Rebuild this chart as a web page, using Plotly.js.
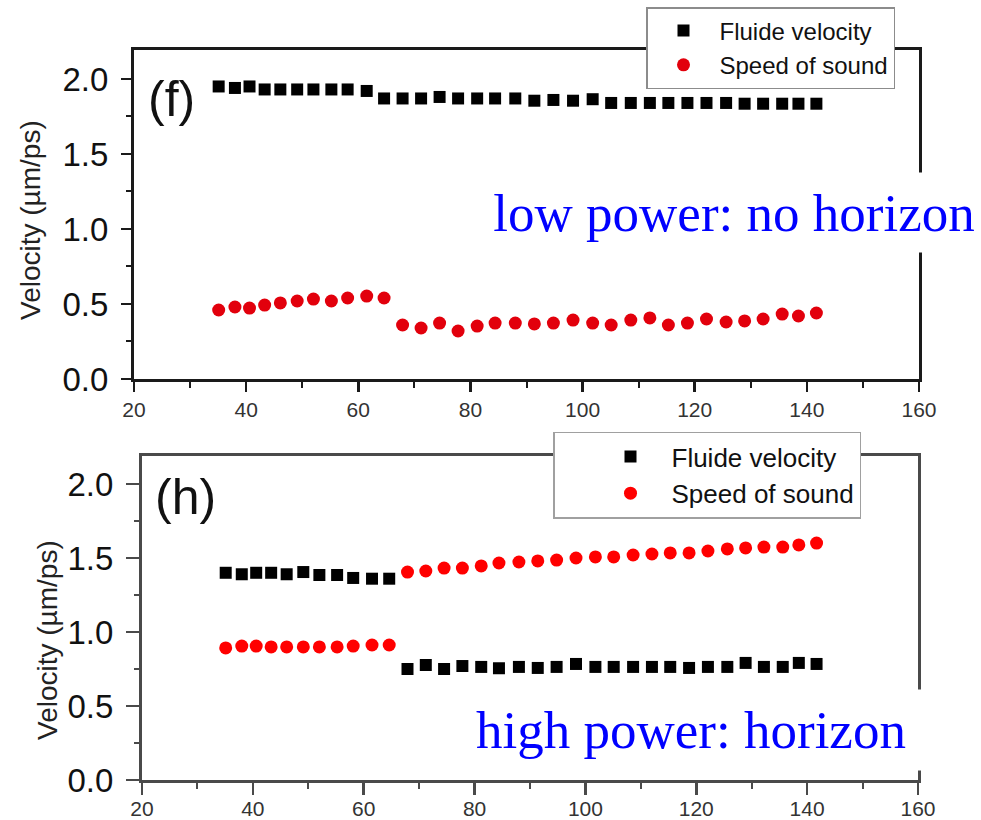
<!DOCTYPE html>
<html>
<head>
<meta charset="utf-8">
<script src="https://cdn.plot.ly/plotly-3.0.1.min.js"></script>
<style>
  html, body { margin: 0; padding: 0; background: #fff; }
  #chart { width: 981px; height: 820px; }
</style>
</head>
<body>
<div id="chart"></div>
<script>
// Sampling positions along the channel (shared by all four series)
const positions = [35.1, 38.0, 40.6, 43.3, 46.1, 49.1, 52.0, 55.2, 58.1, 61.5, 64.6,
  67.9, 71.2, 74.5, 77.8, 81.2, 84.4, 88.0, 91.4, 94.8, 98.3, 101.8, 105.1, 108.6,
  112.0, 115.3, 118.7, 122.1, 125.6, 128.9, 132.2, 135.6, 138.5, 141.7];

// (f) low power
const lowFluid = [1.95, 1.94, 1.95, 1.93, 1.93, 1.93, 1.93, 1.93, 1.93, 1.92,
  1.87, 1.87, 1.87, 1.88, 1.87, 1.87, 1.87, 1.87, 1.855, 1.86, 1.855, 1.865,
  1.84, 1.84, 1.84, 1.84, 1.84, 1.84, 1.84, 1.835, 1.835, 1.835, 1.835, 1.835];
const lowSound = [0.46, 0.48, 0.473, 0.493, 0.507, 0.52, 0.533, 0.52, 0.54, 0.553, 0.54,
  0.36, 0.34, 0.373, 0.32, 0.353, 0.373, 0.373, 0.367, 0.373, 0.393, 0.373, 0.36,
  0.393, 0.407, 0.36, 0.373, 0.40, 0.38, 0.387, 0.40, 0.433, 0.42, 0.44];

// (h) high power
const highFluid = [1.40, 1.39, 1.40, 1.40, 1.39, 1.405, 1.385, 1.385, 1.365, 1.36, 1.36,
  0.75, 0.777, 0.75, 0.77, 0.764, 0.755, 0.764, 0.757, 0.764, 0.784, 0.764, 0.764,
  0.764, 0.764, 0.764, 0.757, 0.764, 0.764, 0.791, 0.764, 0.764, 0.791, 0.784];
const highSound = [0.892, 0.905, 0.905, 0.899, 0.899, 0.899, 0.899, 0.899, 0.905, 0.912, 0.912,
  1.405, 1.412, 1.432, 1.432, 1.446, 1.466, 1.473, 1.48, 1.486, 1.50, 1.507, 1.507,
  1.52, 1.527, 1.534, 1.534, 1.547, 1.561, 1.568, 1.574, 1.574, 1.588, 1.601];

const seriesNames = ['Fluide velocity', 'Speed of sound'];
const xTicks = [20, 40, 60, 80, 100, 120, 140, 160];
const yTicks = [0, 0.5, 1.0, 1.5, 2.0];
const yTitle = 'Velocity (µm/ps)';
const panelLabels = ['(f)', '(h)'];
const panelNotes = ['low power: no horizon', 'high power: horizon'];

const W = 981, H = 820;
const px = v => v / W;
const py = v => 1 - v / H;

const sans = 'Liberation Sans, Arial, sans-serif';
const serif = 'Liberation Serif, Times New Roman, serif';

function xAxis(domain, anchor, color, ticklen, standoff) {
  return {
    domain: domain, anchor: anchor, range: [19.999, 160.001], tickvals: xTicks,
    showgrid: false, zeroline: false,
    showline: true, mirror: true, linecolor: color, linewidth: 3,
    ticks: 'outside', ticklen: ticklen, tickwidth: 2.5, tickcolor: color,
    minor: { dtick: 10, ticks: 'outside', ticklen: 6, tickwidth: 2, tickcolor: color },
    tickfont: { family: sans, size: 21, color: '#333' },
    ticklabelstandoff: standoff
  };
}
function yAxis(domain, anchor, color, ticklen, top) {
  return {
    domain: domain, anchor: anchor, range: [0, top], tickvals: yTicks, tickformat: '.1f',
    showgrid: false, zeroline: false,
    showline: true, mirror: true, linecolor: color, linewidth: 3,
    ticks: 'outside', ticklen: ticklen, tickwidth: 2.5, tickcolor: color,
    minor: { dtick: 0.25, ticks: 'outside', ticklen: 5, tickwidth: 2, tickcolor: color },
    tickfont: { family: sans, size: 33, color: '#111' },
    ticklabelstandoff: 6
  };
}

const traces = [
  { x: positions, y: lowFluid, name: seriesNames[0], xaxis: 'x', yaxis: 'y', legend: 'legend',
    type: 'scatter', mode: 'markers', marker: { symbol: 'square', size: 12, color: '#000' } },
  { x: positions, y: lowSound, name: seriesNames[1], xaxis: 'x', yaxis: 'y', legend: 'legend',
    type: 'scatter', mode: 'markers', marker: { symbol: 'circle', size: 13, color: '#e2000c' } },
  { x: positions, y: highFluid, name: seriesNames[0], xaxis: 'x2', yaxis: 'y2', legend: 'legend2',
    type: 'scatter', mode: 'markers', marker: { symbol: 'square', size: 12, color: '#000' } },
  { x: positions, y: highSound, name: seriesNames[1], xaxis: 'x2', yaxis: 'y2', legend: 'legend2',
    type: 'scatter', mode: 'markers', marker: { symbol: 'circle', size: 13, color: '#ff0000' } }
];

const layout = {
  width: W, height: H, autosize: false,
  margin: { l: 0, r: 0, t: 0, b: 0 },
  paper_bgcolor: '#fff', plot_bgcolor: '#fff',
  showlegend: true,
  xaxis: xAxis([px(134), px(919)], 'y', '#1a1a1a', 10, 0),
  yaxis: yAxis([py(379), py(50)], 'x', '#1a1a1a', 10, 2.193),
  xaxis2: xAxis([px(142), px(918)], 'y2', '#4a4a4a', 12, -4),
  yaxis2: yAxis([py(780), py(456)], 'x2', '#4a4a4a', 13, 2.189),
  legend: {
    x: px(646), y: py(7), xanchor: 'left', yanchor: 'top',
    bgcolor: '#fff', bordercolor: '#8c8c8c', borderwidth: 1.5,
    font: { family: sans, size: 24, color: '#111' },
    itemwidth: 62, tracegroupgap: 0
  },
  legend2: {
    x: px(553), y: py(475), xanchor: 'left', yanchor: 'middle',
    bgcolor: '#fff', bordercolor: '#a0a0a0', borderwidth: 1.5,
    font: { family: sans, size: 26, color: '#111' },
    itemwidth: 72, indentation: 35, tracegroupgap: 0
  },
  annotations: [
    { text: panelLabels[0], xref: 'paper', yref: 'paper', x: px(171), y: py(99),
      xanchor: 'center', yanchor: 'middle', showarrow: false,
      font: { family: sans, size: 50, color: '#111' } },
    { text: panelLabels[1], xref: 'paper', yref: 'paper', x: px(185), y: py(497),
      xanchor: 'center', yanchor: 'middle', showarrow: false,
      font: { family: sans, size: 50, color: '#111' } },
    { text: yTitle, xref: 'paper', yref: 'paper', x: px(30), y: py(220), textangle: -90,
      xanchor: 'center', yanchor: 'middle', showarrow: false,
      font: { family: sans, size: 28, color: '#222' } },
    { text: yTitle, xref: 'paper', yref: 'paper', x: px(47), y: py(640), textangle: -90,
      xanchor: 'center', yanchor: 'middle', showarrow: false,
      font: { family: sans, size: 28, color: '#222' } },
    { text: panelNotes[0], xref: 'paper', yref: 'paper', x: px(733.5), y: py(212.5),
      xanchor: 'center', yanchor: 'middle', showarrow: false,
      width: 492, height: 79, borderpad: 0, bgcolor: '#fff',
      font: { family: serif, size: 53, color: '#0000ff' } },
    { text: panelNotes[1], xref: 'paper', yref: 'paper', x: px(691), y: py(730),
      xanchor: 'center', yanchor: 'middle', showarrow: false,
      width: 470, height: 80, borderpad: 0, bgcolor: '#fff',
      font: { family: serif, size: 53, color: '#0000ff' } }
  ]
};

Plotly.newPlot('chart', traces, layout, { displayModeBar: false, staticPlot: true });
</script>
</body>
</html>
